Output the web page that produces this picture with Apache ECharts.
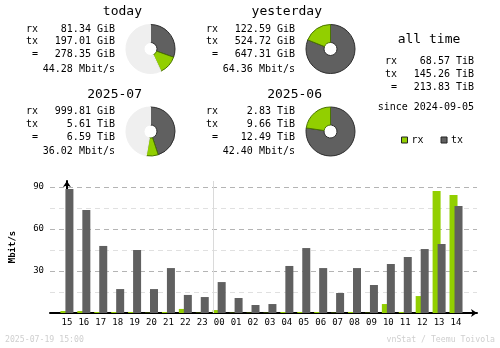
<!DOCTYPE html>
<html>
<head>
<meta charset="utf-8">
<script src="https://cdn.jsdelivr.net/npm/echarts@6/dist/echarts.min.js"></script>
<style>
  html, body { margin: 0; padding: 0; background: #fff; }
  #chart { width: 500px; height: 348px; }
</style>
</head>
<body>
<div id="chart"></div>
<script>
// vnStat summary: four period donuts with totals, all-time totals, hourly rates
const periodTitles = ['today', 'yesterday', '2025-07', '2025-06'];
const periodRx = ['81.34 GiB', '122.59 GiB', '999.81 GiB', '2.83 TiB'];
const periodTx = ['197.01 GiB', '524.72 GiB', '5.61 TiB', '9.66 TiB'];
const periodTotal = ['278.35 GiB', '647.31 GiB', '6.59 TiB', '12.49 TiB'];
const periodRate = ['44.28 Mbit/s', '64.36 Mbit/s', '36.02 Mbit/s', '42.40 Mbit/s'];
// each current period is drawn against the full previous period (-1 = full circle)
const periodReference = [1, -1, 3, -1];

const allTimeRx = '68.57 TiB';
const allTimeTx = '145.26 TiB';
const allTimeTotal = '213.83 TiB';
const allTimeSince = 'since 2024-09-05';

const hourLabels = ['15', '16', '17', '18', '19', '20', '21', '22', '23', '00', '01', '02',
                    '03', '04', '05', '06', '07', '08', '09', '10', '11', '12', '13', '14'];
const hourlyRx = [1.4, 1.4, 0.7, 0.7, 0.7, 0.2, 0.7, 2.9, 0.2, 2.1, 0.2, 0.2,
                  0.2, 0.7, 0.7, 0.7, 0.2, 0.7, 0.2, 6.4, 0.7, 12.1, 87.1, 84.3];
const hourlyTx = [88.6, 73.6, 47.9, 17.1, 45.0, 17.1, 32.1, 12.9, 11.4, 22.1, 10.7, 5.7,
                  6.4, 33.6, 46.4, 32.1, 14.3, 32.1, 20.0, 35.0, 40.0, 45.7, 49.3, 76.4];
const footerDate = '2025-07-19 15:00';
const footerCredit = 'vnStat / Teemu Toivola';

const RX = '#92cf00', TX = '#606060', MONO = '"DejaVu Sans Mono", monospace';

function toGiB(s) {
  const [num, unit] = s.split(' ');
  return parseFloat(num) * (unit === 'TiB' ? 1024 : 1);
}

const chart = echarts.init(document.getElementById('chart'), null, { renderer: 'canvas' });

// layout of the four period blocks
const blockPos = [
  { dx: 0, dy: 0 }, { dx: 180, dy: 0 }, { dx: 0, dy: 82.5 }, { dx: 180, dy: 82.5 }
];

const graphics = [];
function txt(x, y, text, opts) {
  const o = Object.assign({ size: 10, align: 'left', color: '#000', weight: 'normal' }, opts || {});
  graphics.push({
    type: 'text', x: x, y: y, silent: true,
    style: {
      text: text, fill: o.color,
      font: o.weight + ' ' + o.size + 'px ' + MONO,
      align: o.align, textAlign: o.align,
      verticalAlign: 'middle', textVerticalAlign: 'middle'
    }
  });
}

const pieSeries = [];
periodTitles.forEach((title, i) => {
  const p = blockPos[i];
  txt(142 + p.dx, 11.7 + p.dy, title, { size: 13, align: 'right' });
  const rows = [17.6, 30, 42.8, 57.6];
  txt(26 + p.dx, 11.7 + p.dy + rows[0], 'rx');
  txt(115 + p.dx, 11.7 + p.dy + rows[0], periodRx[i], { align: 'right' });
  txt(26 + p.dx, 11.7 + p.dy + rows[1], 'tx');
  txt(115 + p.dx, 11.7 + p.dy + rows[1], periodTx[i], { align: 'right' });
  txt(26 + p.dx, 11.7 + p.dy + rows[2], ' =');
  txt(115 + p.dx, 11.7 + p.dy + rows[2], periodTotal[i], { align: 'right' });
  txt(115 + p.dx, 11.7 + p.dy + rows[3], periodRate[i], { align: 'right' });

  const rx = toGiB(periodRx[i]);
  const tx = toGiB(periodTx[i]);
  const data = [
    { name: 'tx', value: tx, itemStyle: { color: TX, borderColor: '#2e2e2e' } },
    { name: 'rx', value: rx, itemStyle: { color: RX, borderColor: '#4a7400' } }
  ];
  const ref = periodReference[i];
  if (ref >= 0) {
    data.push({ name: 'rest', value: toGiB(periodTotal[ref]) - (rx + tx),
                itemStyle: { color: '#efefef', borderColor: '#efefef' } });
  }
  pieSeries.push({
    type: 'pie', silent: true, animation: false,
    center: [150.5 + p.dx, 49 + p.dy], radius: [6.5, 24.5],
    startAngle: 90, clockwise: true, avoidLabelOverlap: false,
    label: { show: false }, labelLine: { show: false },
    itemStyle: { borderWidth: 1 },
    emphasis: { disabled: true },
    data: data
  });
});

// all-time block
txt(429, 40, 'all time', { size: 13, align: 'center' });
txt(385, 61, 'rx');
txt(474, 61, allTimeRx, { align: 'right' });
txt(385, 74.3, 'tx');
txt(474, 74.3, allTimeTx, { align: 'right' });
txt(385, 87.7, ' =');
txt(474, 87.7, allTimeTotal, { align: 'right' });
txt(474, 107.7, allTimeSince, { align: 'right' });

// footer
txt(5, 339.7, footerDate, { size: 8.2, color: '#cfcfcf' });
txt(495, 339.7, footerCredit, { size: 8.2, color: '#cfcfcf', align: 'right' });

const option = {
  animation: false,
  backgroundColor: '#fff',
  textStyle: { fontFamily: MONO },
  legend: {
    left: 396, top: 130,
    icon: 'rect', itemWidth: 6, itemHeight: 6, itemGap: 17,
    selectedMode: false,
    itemStyle: { borderColor: '#222', borderWidth: 1 },
    textStyle: { fontFamily: MONO, fontSize: 10, color: '#000', padding: [0, 0, 0, -1] },
    data: ['rx', 'tx']
  },
  grid: { left: 48, right: 23, top: 181, bottom: 35 },
  xAxis: {
    type: 'value', min: -1, max: 24.24, interval: 1,
    axisLine: { show: true, symbol: ['none', 'arrow'], symbolSize: [6, 6],
                lineStyle: { color: '#000', width: 2 } },
    axisTick: { show: false },
    splitLine: { show: false },
    axisLabel: {
      margin: 5, fontFamily: MONO, fontSize: 9, color: '#000',
      showMaxLabel: false,
      formatter: (v) => hourLabels[v] !== undefined ? hourLabels[v] : ''
    }
  },
  yAxis: {
    type: 'value', min: 0, max: 94.3, interval: 30,
    name: 'Mbit/s', nameLocation: 'middle', nameRotate: 90, nameGap: 33,
    nameTextStyle: { fontFamily: MONO, fontSize: 9, fontWeight: 'bold', color: '#000' },
    axisLine: { show: true, symbol: ['none', 'arrow'], symbolSize: [6, 6],
                lineStyle: { color: '#000', width: 2 } },
    axisTick: { show: false },
    axisLabel: {
      margin: 6, fontFamily: MONO, fontSize: 9, color: '#000',
      showMinLabel: false, showMaxLabel: false,
      formatter: (v) => (v > 0 && v % 30 === 0) ? String(v) : ''
    },
    splitLine: { show: true, showMinLine: false, showMaxLine: false,
                 lineStyle: { color: '#b4b4b4', type: [5, 4], width: 1 } },
    minorTick: { show: false, splitNumber: 2 },
    minorSplitLine: { show: true, lineStyle: { color: '#e0e0e0', type: [5, 4], width: 1 } }
  },
  series: [
    {
      name: 'rx', type: 'bar', silent: true,
      barWidth: 8, barGap: '-37.5%',
      itemStyle: { color: RX },
      data: hourlyRx.map((v, i) => [i, v])
    },
    {
      name: 'tx', type: 'bar', silent: true,
      barWidth: 8, barGap: '-37.5%',
      itemStyle: { color: TX },
      data: hourlyTx.map((v, i) => [i, v]),
      markLine: {
        silent: true, symbol: 'none', label: { show: false },
        lineStyle: { color: '#dadada', type: 'solid', width: 1 },
        data: [{ xAxis: 8.5 }]
      }
    }
  ].concat(pieSeries),
  graphic: { elements: graphics }
};

chart.setOption(option);
</script>
</body>
</html>
